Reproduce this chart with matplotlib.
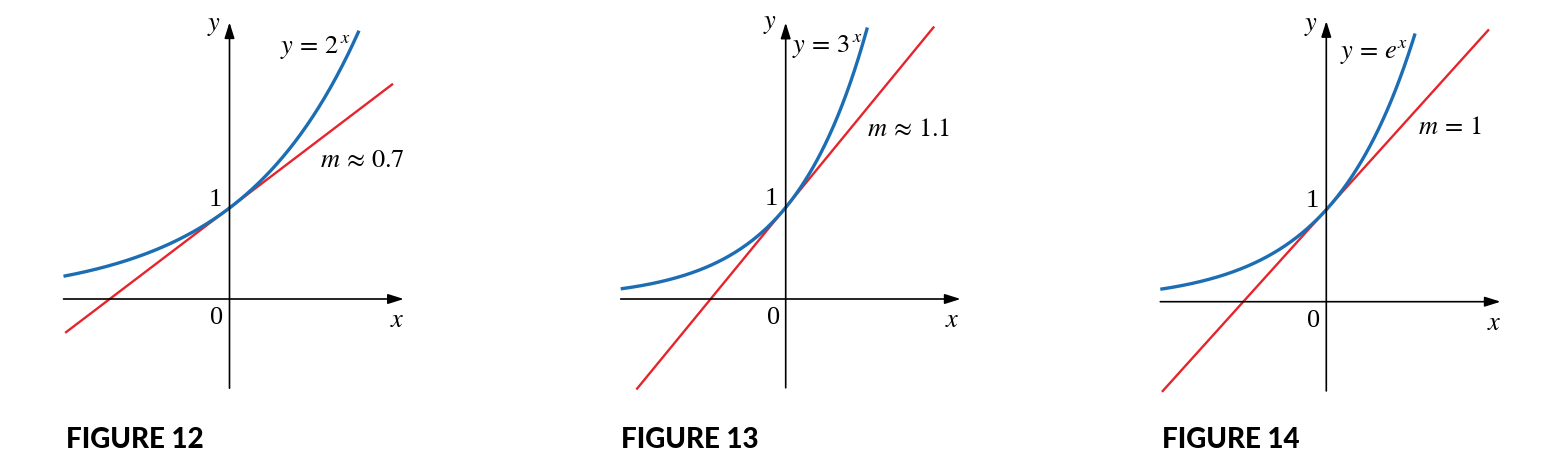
import numpy as np
import matplotlib
matplotlib.use("Agg")
import matplotlib.pyplot as plt

plt.rcParams["mathtext.fontset"] = "stix"
plt.rcParams["font.family"] = ["Liberation Serif", "DejaVu Serif"]

W, H, DPI = 1544, 464, 100

# exponential bases and tangent slopes at (0, 1)
bases = [2.0, 3.0, np.e]
slopes = [0.693, 1.099, 1.0]
curve_x_ranges = [(-2.0, 1.56), (-2.0, 0.99), (-2.0, 1.07)]
line_x_ranges = [(-1.98, 1.97), (-1.81, 1.80), (-1.98, 1.96)]
curve_labels = [r"$y\,=\,2^{\,x}$", r"$y\,=\,3^{\,x}$", r"$y\,=\,e^{x}$"]
slope_labels = [r"$m\,\approx\,0.7$", r"$m\,\approx\,1.1$", r"$m\,=\,1$"]
figure_labels = ["FIGURE 12", "FIGURE 13", "FIGURE 14"]

# label placements (data coordinates)
curve_label_pos = [(0.61, 2.78), (0.08, 2.78), (0.16, 2.72)]
slope_label_pos = [(1.09, 1.53), (0.99, 1.86), (1.11, 1.90)]

# panel origins in pixels and unit sizes
origins = [(229.5, 300.0), (785.7, 300.0), (1326.3, 302.7)]
units = [(83.0, 91.0), (82.5, 91.5), (83.0, 92.0)]
x_axis_ranges = [(-2.0, 2.1), (-2.0, 2.12), (-2.0, 2.1)]
y_axis_ranges = [(-0.98, 3.04), (-0.97, 3.02), (-0.97, 3.05)]
fig_label_x = [66, 621, 1162]

BLUE = "#1b6db4"
RED = "#e6242b"

fig = plt.figure(figsize=(W / DPI, H / DPI), dpi=DPI)

XMIN, XMAX, YMIN, YMAX = -2.3, 2.4, -1.3, 3.4

for i in range(3):
    ox, oy = origins[i]
    ux, uy = units[i]
    left = (ox + XMIN * ux) / W
    width = (XMAX - XMIN) * ux / W
    bottom = (H - (oy - YMIN * uy)) / H
    height = (YMAX - YMIN) * uy / H
    ax = fig.add_axes([left, bottom, width, height])
    ax.set_xlim(XMIN, XMAX)
    ax.set_ylim(YMIN, YMAX)
    ax.axis("off")

    # axes with arrows
    x0, x1 = x_axis_ranges[i]
    y0, y1 = y_axis_ranges[i]
    arrow = dict(arrowstyle="-|>,head_length=0.95,head_width=0.3",
                 lw=1.2, color="black", shrinkA=0, shrinkB=0)
    ax.annotate("", xy=(x1, 0), xytext=(x0, 0), arrowprops=arrow)
    ax.annotate("", xy=(0, y1), xytext=(0, y0), arrowprops=arrow)

    # tangent line
    lx = np.array(line_x_ranges[i])
    ax.plot(lx, 1 + slopes[i] * lx, color=RED, lw=1.7, solid_capstyle="butt")

    # exponential curve
    cx = np.linspace(*curve_x_ranges[i], 300)
    ax.plot(cx, bases[i] ** cx, color=BLUE, lw=2.4, solid_capstyle="butt")

    fs = 19
    ax.text(-0.19, 3.0, r"$y$", fontsize=fs, ha="center", va="center")
    ax.text(2.02, -0.23, r"$x$", fontsize=fs, ha="center", va="center")
    ax.text(-0.17, 1.1, "1", fontsize=fs, ha="center", va="center")
    ax.text(-0.15, -0.2, "0", fontsize=fs, ha="center", va="center")
    ax.text(*curve_label_pos[i], curve_labels[i], fontsize=fs, ha="left", va="center")
    ax.text(*slope_label_pos[i], slope_labels[i], fontsize=fs, ha="left", va="center")

    fig.text(fig_label_x[i] / W, 1 - 440 / H, figure_labels[i],
             fontsize=20, fontweight="black", family="Lato",
             ha="left", va="center")

fig.savefig("out.png", dpi=DPI)
